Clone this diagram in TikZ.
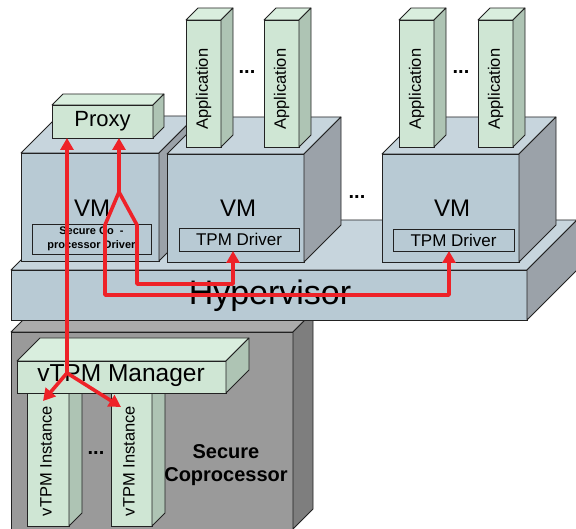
\documentclass[tikz,border=0pt]{standalone}
\usepackage{fontspec}
\setmainfont{Liberation Sans}
\usetikzlibrary{arrows.meta}
\definecolor{edge}{HTML}{222222}
\definecolor{arrowred}{HTML}{EE2228}
\definecolor{vmF}{HTML}{B8CAD4}
\definecolor{vmT}{HTML}{C7D5DD}
\definecolor{vmS}{HTML}{9BA2A9}
\definecolor{gF}{HTML}{CFE6D4}
\definecolor{gT}{HTML}{D9EEDE}
\definecolor{gS}{HTML}{AEC4B4}
\definecolor{scF}{HTML}{9A9A9A}
\definecolor{scT}{HTML}{ACACAC}
\definecolor{scS}{HTML}{7E7E7E}
\newcommand{\mycuboid}[7]{%
  \node[draw=edge, line width=0.8pt, fill=#7F, minimum width=#4pt, minimum height=#5pt,
        anchor=north west, inner sep=0pt, outer sep=0pt] (#1) at (#2,#3) {};
  \filldraw[fill=#7T, draw=edge, line width=0.8pt, line join=round]
     (#1.north west) -- ++(#6,-#6) -- ([shift={(#6,-#6)}]#1.north east) -- (#1.north east) -- cycle;
  \filldraw[fill=#7S, draw=edge, line width=0.8pt, line join=round]
     (#1.north east) -- ++(#6,-#6) -- ([shift={(#6,-#6)}]#1.south east) -- (#1.south east) -- cycle;
}
\begin{document}
\begin{tikzpicture}[x=1pt,y=-1pt,
  inbox/.style={draw=edge, line width=0.8pt, fill=vmF, anchor=north west, inner sep=0pt, outer sep=0pt},
  conn/.style={draw=arrowred, line width=3.6pt, line join=round, -{Triangle[length=12pt,width=13pt]}},
  dots/.style={font=\fontsize{20}{22}\selectfont\bfseries, inner sep=0pt},
  vmlbl/.style={font=\fontsize{24}{26}\selectfont, inner sep=0pt},
  applbl/.style={font=\fontsize{16.5}{18}\selectfont, rotate=90, inner sep=0pt},
  drvlbl/.style={font=\fontsize{17}{18}\selectfont, inner sep=0pt},
]
\useasboundingbox (0,0) rectangle (576,529);

% secure coprocessor
\mycuboid{sc}{11}{332}{282}{197}{20}{sc}
% hypervisor
\mycuboid{hv}{11}{270}{516}{50}{50}{vm}
% VMs
\mycuboid{vma}{21}{153}{138}{108}{37}{vm}
\mycuboid{vmb}{167}{154}{137}{108}{37}{vm}
\mycuboid{vmc}{382}{154}{137}{108}{37}{vm}
% proxy
\mycuboid{proxy}{52}{105}{101}{33}{11}{g}
% applications
\mycuboid{appa}{186}{20}{35}{127}{12}{g}
\mycuboid{appb}{264}{20}{35}{127}{12}{g}
\mycuboid{appc}{399}{20}{35}{127}{12}{g}
\mycuboid{appd}{478}{20}{35}{127}{12}{g}
% vTPM instances
\mycuboid{insta}{27}{365}{42}{161}{13}{g}
\mycuboid{instb}{111}{365}{41}{161}{13}{g}
% vTPM manager
\mycuboid{mgr}{17}{361}{209}{32}{23}{g}

% driver boxes
\node[inbox, minimum width=119pt, minimum height=30pt] (scdrv) at (32,224) {};
\node[inbox, minimum width=120pt, minimum height=23pt] (tpmb) at (179,228) {};
\node[inbox, minimum width=121pt, minimum height=22pt] (tpmc) at (393,229) {};

% labels
\node[font=\fontsize{22}{24}\selectfont, inner sep=0pt] (proxylbl) at (proxy.center) {Proxy};
\node[vmlbl] (vmalbl) at (92,208) {VM};
\node[vmlbl] (vmblbl) at (238,208) {VM};
\node[vmlbl] (vmclbl) at (452,208) {VM};
\node[font=\fontsize{11}{13.5}\selectfont\bfseries, align=center, inner sep=0pt] (scdrvlbl) at (scdrv.center) {Secure Co\ \ -\\processor Driver};
\node[drvlbl] (tpmblbl) at (tpmb.center) {TPM Driver};
\node[drvlbl] (tpmclbl) at (tpmc.center) {TPM Driver};
\node[applbl] (appalbl) at (203.5,89) {Application};
\node[applbl] (appblbl) at (281.5,89) {Application};
\node[applbl] (appclbl) at (416.5,89) {Application};
\node[applbl] (appdlbl) at (495.5,89) {Application};
\node[dots] (dotsa) at (247,72) {...};
\node[dots] (dotsb) at (461,72) {...};
\node[dots] (dotsc) at (357,197) {...};
\node[dots] (dotsd) at (96,453) {...};
\node[font=\fontsize{34}{36}\selectfont, inner sep=0pt] (hvlbl) at (270,296) {Hypervisor};
\node[font=\fontsize{24.5}{26}\selectfont, inner sep=0pt] (mgrlbl) at (121,376) {vTPM Manager};
\node[applbl] (instalbl) at (46,461) {vTPM Instance};
\node[applbl] (instblbl) at (129,461) {vTPM Instance};
\node[font=\fontsize{20}{23}\selectfont\bfseries, align=center, inner sep=0pt] (sclbl) at (226,465) {Secure\\Coprocessor};

% connectors
\coordinate (bra) at (67,373);
\coordinate (ta) at (43,401);
\coordinate (tb) at (121,407);
\coordinate (brb) at (119,192);
\coordinate (ka) at (105,225);
\coordinate (kb) at (105,295);
\coordinate (kc) at (449,295);
\coordinate (kd) at (137,225);
\coordinate (ke) at (137,284);
\coordinate (kf) at (233,284);

\draw[conn] (bra) -- (bra |- proxy.south);
\draw[conn] (bra) -- (ta);
\draw[conn] (bra) -- (tb);
\draw[conn] (brb) -- (brb |- proxy.south);
\draw[conn] (brb) -- (ka) -- (kb) -- (kc) -- (kc |- tpmc.south);
\draw[conn] (brb) -- (kd) -- (ke) -- (kf) -- (kf |- tpmb.south);
\end{tikzpicture}
\end{document}
